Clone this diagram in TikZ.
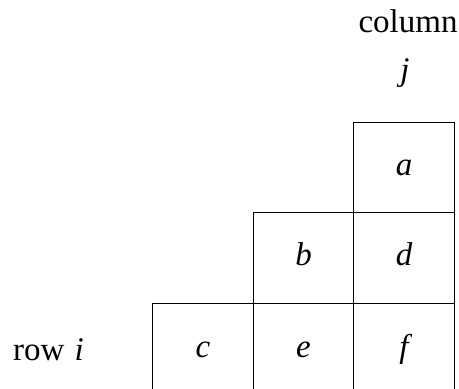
\documentclass[tikz,border=0pt]{standalone}
\usepackage{fontspec}
\setmainfont{Liberation Serif}
\begin{document}
\begin{tikzpicture}[x=1pt,y=1pt,
  cell/.style={draw,line width=0.9pt,rectangle,minimum width=100.5pt,minimum height=90.5pt,inner sep=0pt},
  lbl/.style={anchor=base,inner sep=0pt,font=\fontsize{33}{40}\selectfont\itshape},
  txt/.style={anchor=base,inner sep=0pt,font=\fontsize{33}{40}\selectfont}]
\useasboundingbox (0,0) rectangle (459,-389);
\node[cell] (ca) at (404,-167.5) {};
\node[cell] (cb) at (303.5,-258) {};
\node[cell] (cd) at (404,-258) {};
\node[cell] (cc) at (203,-348.5) {};
\node[cell] (ce) at (303.5,-348.5) {};
\node[cell] (cf) at (404,-348.5) {};
\node[lbl] (la) at ([yshift=-7.5pt]ca.center) {a};
\node[lbl] (lb) at ([yshift=-7.5pt]cb.center) {b};
\node[lbl] (ld) at ([yshift=-7.5pt]cd.center) {d};
\node[lbl] (lc) at ([yshift=-8.5pt]cc.center) {c};
\node[lbl] (le) at ([yshift=-8.5pt]ce.center) {e};
\node[lbl] (lf) at ([yshift=-8.5pt]cf.center) {f};
\node[txt] (col) at (408,-32) {column};
\node[lbl] (j) at (405,-80) {j};
\node[txt,anchor=base west] (row) at (13,-360) {row\hspace{10pt}\textit{i}};
\end{tikzpicture}
\end{document}
